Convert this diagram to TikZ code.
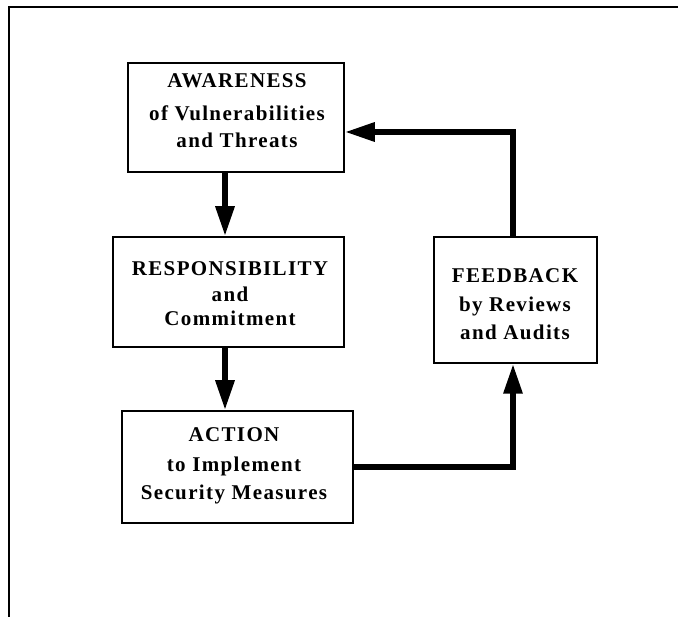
\documentclass[tikz,border=0pt]{standalone}
\usepackage{fontspec}
\setmainfont{Liberation Serif}
\newfontfamily\boxfont[LetterSpace=6.5]{Liberation Serif}
\usetikzlibrary{arrows.meta}
\begin{document}
\begin{tikzpicture}[x=1pt,y=-1pt,
  box/.style={draw, line width=1.5pt, fill=white, inner sep=0pt},
  lbl/.style={align=center, inner sep=0pt, anchor=base,
    font=\boxfont\bfseries\fontsize{21}{28}\selectfont},
  flow/.style={line width=6pt, line join=miter,
    -{Triangle[length=30pt,width=18pt]}},
  frame/.style={line width=2.5pt}]
\useasboundingbox (0,0) rectangle (678,617);

% open frame: top rule and left rule only
\draw[frame] (678,7) -- (9,7) -- (9,617);

% boxes
\node[box, minimum width=216pt, minimum height=109pt] (aw)   at (236,117.5) {};
\node[box, minimum width=231pt, minimum height=110pt] (resp) at (228.5,292) {};
\node[box, minimum width=231pt, minimum height=112pt] (act)  at (237.5,467) {};
\node[box, minimum width=163pt, minimum height=126pt] (fb)   at (515.5,300) {};

% box texts, placed by the baseline of their last line
\node[lbl] (awT)   at (237,148) {AWARENESS\\[5pt]of Vulnerabilities\\[-1pt]and Threats};
\node[lbl] (respT) at (230,326) {RESPONSIBILITY\\[-2pt]and\\[-4pt]Commitment};
\node[lbl] (actT)  at (234,500) {ACTION\\[2pt]to Implement\\Security Measures};
\node[lbl] (fbT)   at (515,340) {FEEDBACK\\[1pt]by Reviews\\and Audits};

% connector columns and rows
\coordinate (colL) at (225,0);
\coordinate (colR) at (513,0);
\coordinate (rowT) at (0,132);

% flow arrows
\draw[flow] (aw.south -| colL) -- (resp.north -| colL);
\draw[flow] (resp.south -| colL) -- (act.north -| colL);
\draw[flow] (act.east) -- (act.east -| colR) -- (fb.south -| colR);
\draw[flow] (fb.north -| colR) -- (colR |- rowT) -- (aw.east |- rowT);
\end{tikzpicture}
\end{document}
